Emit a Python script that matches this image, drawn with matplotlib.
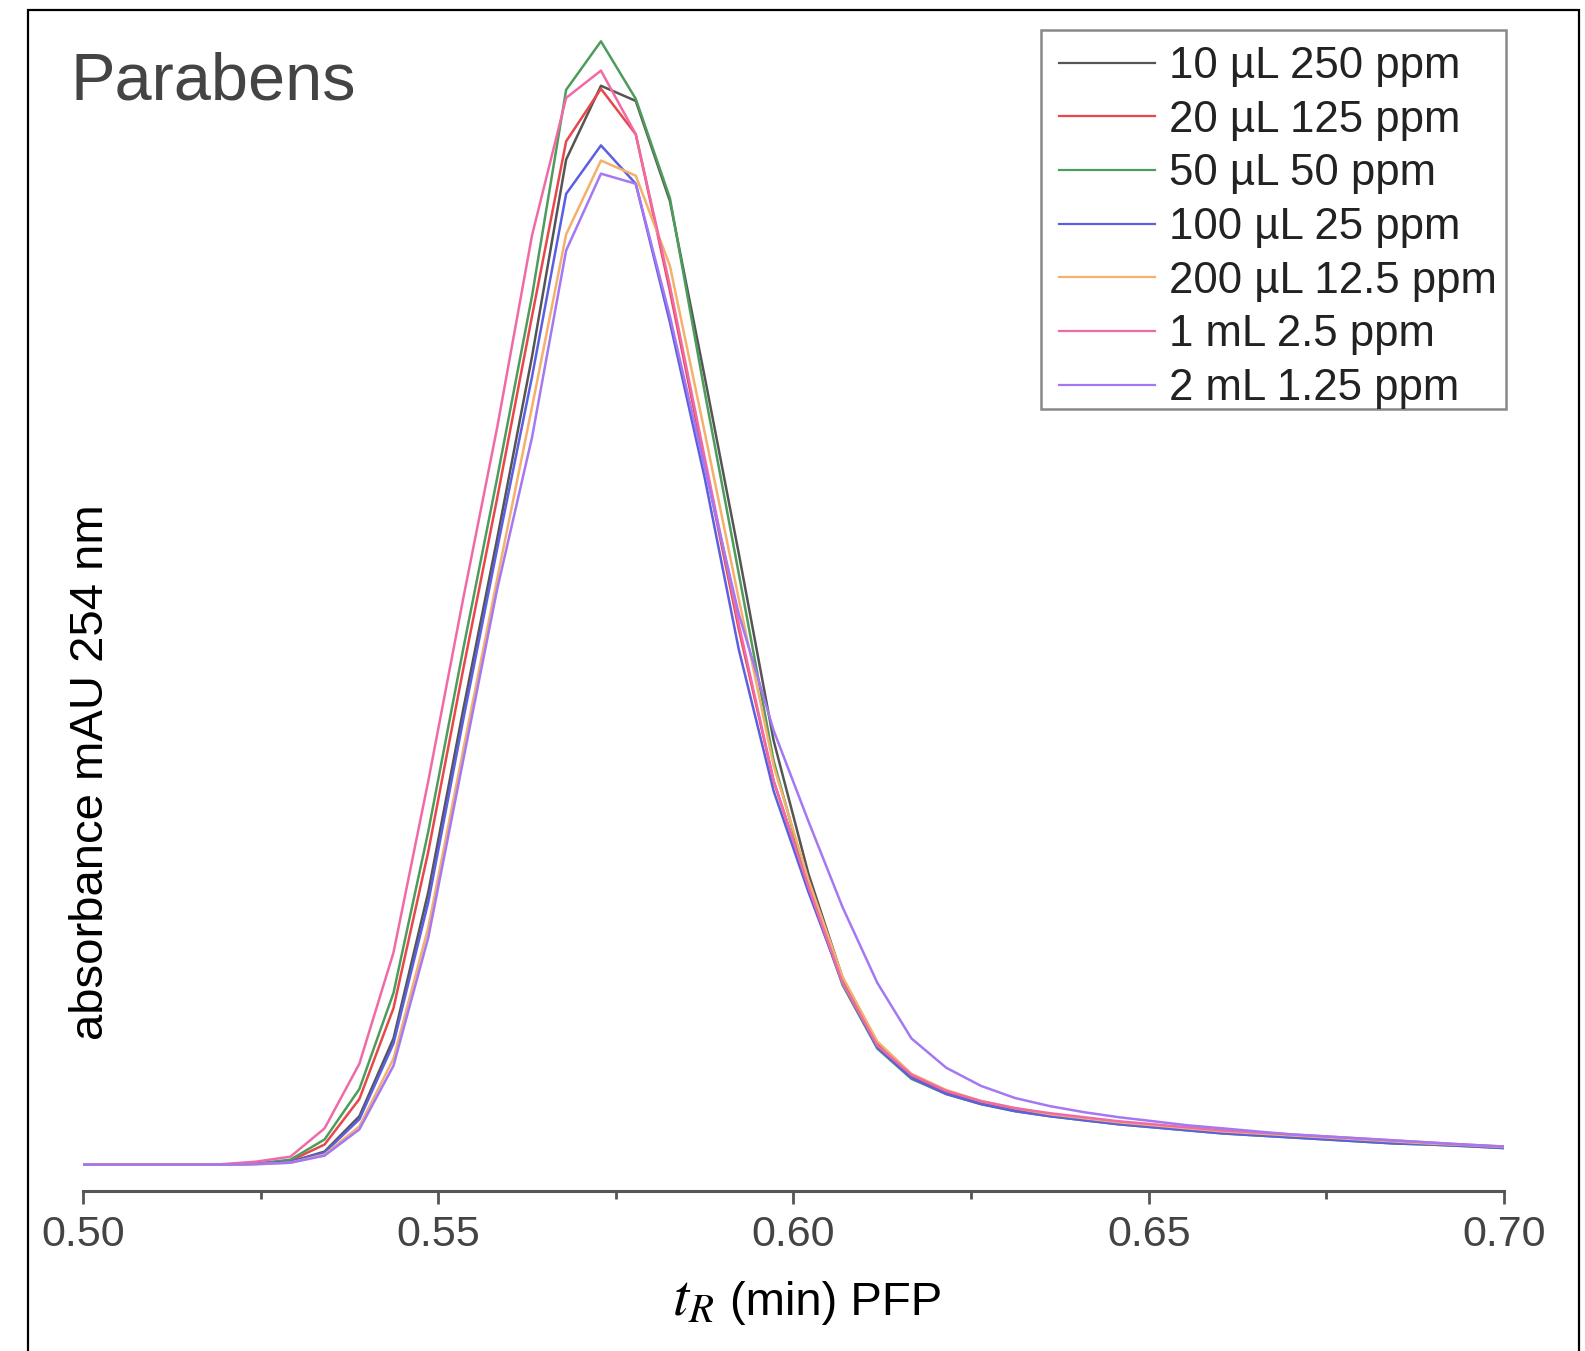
import matplotlib
matplotlib.use('Agg')
import matplotlib.pyplot as plt
from matplotlib.patches import Rectangle

plt.rcParams['font.family'] = ['Liberation Sans', 'DejaVu Sans']
plt.rcParams['mathtext.fontset'] = 'stix'

# retention time (min), one sample per ~0.0049 min
t_min = [0.5000, 0.5049, 0.5097, 0.5146, 0.5194, 0.5243, 0.5292, 0.5340,
         0.5389, 0.5437, 0.5486, 0.5535, 0.5583, 0.5632, 0.5680, 0.5729,
         0.5778, 0.5826, 0.5875, 0.5923, 0.5972, 0.6021, 0.6069, 0.6118,
         0.6166, 0.6215, 0.6264, 0.6312, 0.6361, 0.6409, 0.6458, 0.6507,
         0.6555, 0.6604, 0.6652, 0.6701, 0.6750, 0.6798, 0.6847, 0.6895,
         0.6944, 0.7000]

labels = ['10 µL 250 ppm', '20 µL 125 ppm', '50 µL 50 ppm', '100 µL 25 ppm',
          '200 µL 12.5 ppm', '1 mL 2.5 ppm', '2 mL 1.25 ppm']
colors = ['#555555', '#e8484c', '#4e9c5c', '#5b5fe0', '#f4b06c', '#f06aa6', '#a478f2']

abs_10ul = [0, 0, 0, 0, 0, 0.1, 0.3, 1.3, 4.8, 12.5, 27, 45, 62, 80, 99.5, 106.8,
            105.3, 95.4, 78, 60.5, 42, 28.8, 18.5, 12.0, 8.8, 7.2, 6.2, 5.5, 4.9, 4.5,
            4.1, 3.8, 3.5, 3.2, 3.0, 2.8, 2.6, 2.4, 2.2, 2.05, 1.9, 1.7]
abs_20ul = [0, 0, 0, 0, 0, 0.1, 0.4, 2.0, 6.5, 15.5, 31, 49, 66, 84, 101.3, 106.5,
            102, 86.5, 69.5, 53, 38, 27.5, 18.0, 11.8, 8.8, 7.2, 6.2, 5.5, 5.0, 4.6,
            4.2, 3.9, 3.6, 3.3, 3.1, 2.9, 2.7, 2.5, 2.3, 2.1, 1.95, 1.75]
abs_50ul = [0, 0, 0, 0, 0, 0.1, 0.5, 2.5, 7.5, 17, 33, 51, 68, 86, 106.4, 111.2,
            105.5, 95.7, 76.5, 58.5, 40, 27.5, 17.8, 11.5, 8.5, 7.0, 6.0, 5.3, 4.8, 4.4,
            4.0, 3.7, 3.4, 3.1, 2.9, 2.7, 2.5, 2.3, 2.1, 2.0, 1.85, 1.65]
abs_100ul = [0, 0, 0, 0, 0, 0.1, 0.3, 1.2, 4.5, 12, 26, 44, 61, 78, 96.1, 100.9,
             97.1, 83.4, 68, 51, 37, 27, 18, 11.6, 8.6, 7.0, 6.0, 5.3, 4.8, 4.4,
             4.0, 3.7, 3.4, 3.1, 2.9, 2.7, 2.5, 2.3, 2.1, 2.0, 1.85, 1.65]
abs_200ul = [0, 0, 0, 0, 0, 0.05, 0.2, 1.0, 3.8, 10.5, 23.5, 41, 58, 75, 92.1, 99.4,
             97.9, 89, 72.5, 56, 39.5, 28.2, 18.6, 12.2, 9.0, 7.4, 6.3, 5.6, 5.0, 4.6,
             4.2, 3.9, 3.6, 3.3, 3.1, 2.9, 2.7, 2.5, 2.3, 2.1, 1.95, 1.75]
abs_1ml = [0, 0, 0, 0, 0.05, 0.3, 0.8, 3.6, 10, 21, 38, 56, 73, 92, 105.6, 108.3,
           102, 87, 70, 53.5, 38, 27.5, 18.0, 11.8, 8.9, 7.3, 6.3, 5.6, 5.1, 4.7,
           4.3, 4.0, 3.7, 3.4, 3.2, 3.0, 2.8, 2.6, 2.4, 2.2, 2.0, 1.8]
abs_2ml = [0, 0, 0, 0, 0, 0.05, 0.2, 0.9, 3.5, 9.8, 22.5, 40, 57, 72, 90.5, 98.1,
           97.1, 84, 69, 54.5, 43, 34, 25.5, 18, 12.5, 9.6, 7.8, 6.6, 5.8, 5.2,
           4.7, 4.3, 3.9, 3.6, 3.3, 3.0, 2.8, 2.6, 2.4, 2.2, 2.0, 1.8]

series = [abs_10ul, abs_20ul, abs_50ul, abs_100ul, abs_200ul, abs_1ml, abs_2ml]

W, H = 1585, 1351
fig = plt.figure(figsize=(W / 100, H / 100), dpi=100)
ax = fig.add_axes([83 / W, 1 - 1191 / H, (1504 - 83) / W, (1191 - 10) / H])

for y, c, lab in zip(series, colors, labels):
    ax.plot(t_min, y, color=c, linewidth=1.8, label=lab)

ax.set_xlim(0.5, 0.7)
ax.set_ylim(-2.6, 114.3)
for s in ['top', 'right', 'left']:
    ax.spines[s].set_visible(False)
ax.spines['bottom'].set_color('#555555')
ax.spines['bottom'].set_linewidth(2.2)
ax.set_yticks([])
ax.set_xticks([0.50, 0.55, 0.60, 0.65, 0.70])
ax.set_xticklabels(['0.50', '0.55', '0.60', '0.65', '0.70'])
ax.set_xticks([0.525, 0.575, 0.625, 0.675], minor=True)
ax.tick_params(axis='x', which='major', direction='out', length=9, width=2,
               color='#555555', labelsize=31, labelcolor='#444444', pad=8)
ax.tick_params(axis='x', which='minor', direction='out', length=6, width=2,
               color='#555555')

# legend without its own frame; the box is drawn separately (tight bottom edge)
leg = fig.legend(loc='upper left', bbox_to_anchor=(1059 / W, 1 - 46 / H),
                 borderaxespad=0, borderpad=0, fontsize=31.5, handlelength=2.19,
                 handletextpad=0.33, labelspacing=0.29, frameon=False,
                 handles=ax.get_lines())
for line in leg.get_lines():
    line.set_linewidth(1.6)
for txt in leg.get_texts():
    txt.set_color('#222222')
fig.patches.append(Rectangle((1041 / W, 1 - 409 / H), (1506 - 1041) / W, (409 - 30) / H,
                             transform=fig.transFigure, fill=False,
                             edgecolor='#888888', linewidth=1.8))

fig.text(70 / W, 1 - 99 / H, 'Parabens', fontsize=48, color='#444444',
         ha='left', va='baseline')
fig.text(91 / W, 1 - 772 / H, 'absorbance mAU 254 nm', fontsize=34, rotation=90,
         ha='center', va='center', color='black')
fig.text(714 / W, 1 - 1315 / H, r'$t_R$', fontsize=42,
         ha='right', va='baseline', color='black')
fig.text(730 / W, 1 - 1315 / H, '(min) PFP', fontsize=34,
         ha='left', va='baseline', color='black')

fig.patches.append(Rectangle((27.5 / W, -0.02), (1579 - 27.5) / W, 1.02 - 10 / H,
                             transform=fig.transFigure, fill=False,
                             edgecolor='black', linewidth=1.6))

fig.savefig('out.png', dpi=100)
